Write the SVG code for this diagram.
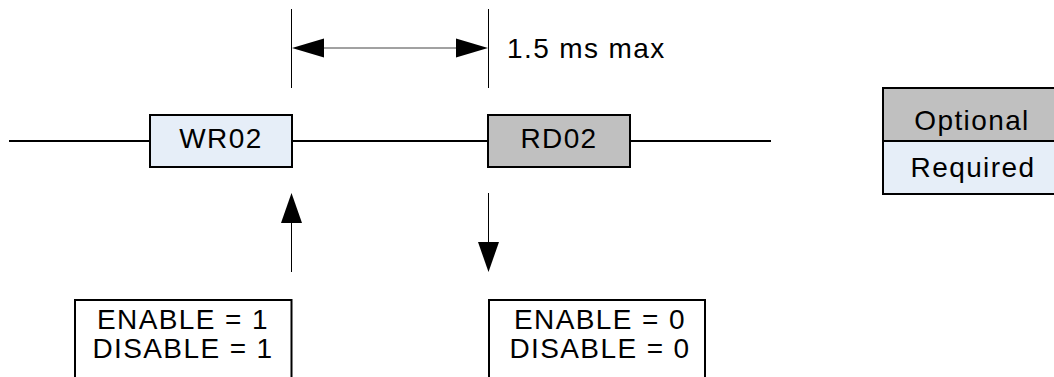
<svg xmlns="http://www.w3.org/2000/svg" width="1054" height="377" viewBox="0 0 1054 377">
<style>
.t{font-family:"Liberation Sans",Arial,sans-serif;font-size:28px;letter-spacing:1.4px;fill:#000}
.box{stroke:#000;stroke-width:2}
.req{fill:#E6EEF8}
.opt{fill:#C0C0C0}
.ln{stroke:#000;stroke-width:2;fill:none}
.thin{stroke:#000;stroke-width:1;fill:none}
</style>
<rect width="1054" height="377" fill="#fff"/>
<g id="connectors">
<line class="ln" x1="9" y1="141" x2="150" y2="141"/>
<line class="ln" x1="292" y1="141" x2="488" y2="141"/>
<line class="ln" x1="630" y1="141" x2="771" y2="141"/>
<line class="thin" x1="291.5" y1="9" x2="291.5" y2="88"/>
<line class="thin" x1="488.5" y1="9" x2="488.5" y2="88"/>
<line x1="320" y1="48" x2="460" y2="48" stroke="#444" stroke-width="1"/>
<polygon points="292,48 324,38.5 324,57.5" fill="#000"/>
<polygon points="488,48 456,38.5 456,57.5" fill="#000"/>
<line class="thin" x1="291.5" y1="272" x2="291.5" y2="220"/>
<polygon points="291.5,193 281,223 302,223" fill="#000"/>
<line class="thin" x1="488.5" y1="193" x2="488.5" y2="245"/>
<polygon points="488.5,272 478,242 499,242" fill="#000"/>
</g>
<g id="label-time">
<text class="t" x="507" y="57.5">1.5 ms max</text>
</g>
<g id="WR02">
<rect class="box req" x="150" y="115" width="142" height="52"/>
<text class="t" x="221" y="148" text-anchor="middle">WR02</text>
</g>
<g id="RD02">
<rect class="box opt" x="488" y="115" width="142" height="52"/>
<text class="t" x="559" y="148" text-anchor="middle">RD02</text>
</g>
<g id="state-1">
<rect class="box" x="75" y="300" width="216.5" height="100" fill="#fff"/>
<text class="t" x="183" y="329" text-anchor="middle">ENABLE = 1</text>
<text class="t" x="183" y="358" text-anchor="middle">DISABLE = 1</text>
</g>
<g id="state-0">
<rect class="box" x="489" y="300" width="216" height="100" fill="#fff"/>
<text class="t" x="600" y="329" text-anchor="middle">ENABLE = 0</text>
<text class="t" x="600" y="358" text-anchor="middle">DISABLE = 0</text>
</g>
<g id="legend">
<rect class="box opt" x="883" y="88" width="180" height="53"/>
<text class="t" x="972" y="130" text-anchor="middle">Optional</text>
<rect class="box req" x="883" y="141" width="180" height="53"/>
<text class="t" x="973" y="177" text-anchor="middle">Required</text>
</g>
</svg>
